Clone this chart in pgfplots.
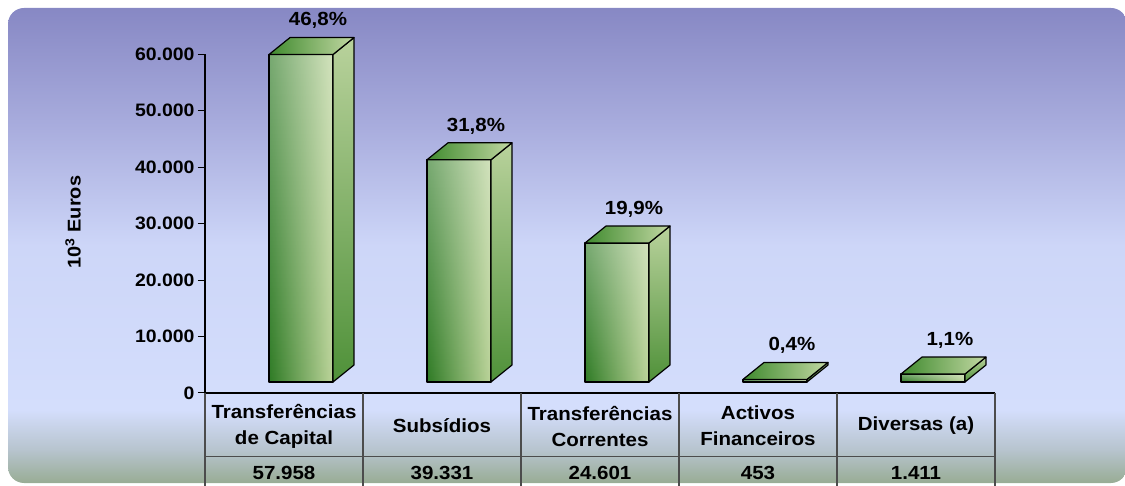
\documentclass[border=0pt]{standalone}
\usepackage{fontspec}
\setmainfont{Liberation Sans}[FakeStretch=1.08]
\usepackage{pgfplots}
\usepackage{pgfplotstable}
\pgfplotsset{compat=1.18}
\usetikzlibrary{fadings}

\definecolor{bgtop}{HTML}{8788C4}
\definecolor{bgup}{HTML}{A8ACDD}
\definecolor{bgmid}{HTML}{CDD6F8}
\definecolor{bglight}{HTML}{D4DEFC}
\definecolor{bgmix}{HTML}{B7C4CE}
\definecolor{bgbot}{HTML}{98AC94}
\definecolor{frontL}{HTML}{2F7B25}
\definecolor{frontR}{HTML}{BCD49A}
\definecolor{sideT}{HTML}{B9D29C}
\definecolor{sideB}{HTML}{4F9139}
\definecolor{topL}{HTML}{3F8A2E}
\definecolor{topR}{HTML}{C2D8A3}

\pgfdeclareverticalshading{bgshade}{100bp}{color(0bp)=(bgbot); color(25bp)=(bgbot);
  color(28.5bp)=(bgmix); color(32.7bp)=(bglight); color(50bp)=(bgmid);
  color(62.7bp)=(bgup); color(75bp)=(bgtop); color(100bp)=(bgtop)}

\newcommand\tk{\fontsize{18pt}{20pt}\selectfont\bfseries}
\newcommand\hd{\fontsize{19pt}{26pt}\selectfont\bfseries}

% x = column, v = 10^3 euros, p = share
\pgfplotstableread{
x v p
0 57958 46,8
1 39331 31,8
2 24601 19,9
3 453 0,4
4 1411 1,1
}\data

% one 3D bar: front (shade, light wash to the top, outline), side, top
\newcommand\cuboid[2]{%
  \edef\front{(\fpeval{#1+0.405},1950) (\fpeval{#1+0.81},1950) (\fpeval{#1+0.81},\fpeval{1950+#2}) (\fpeval{#1+0.405},\fpeval{1950+#2})}%
  \edef\tmp{%
    \noexpand\addplot[draw=none, left color=frontL, right color=frontR] coordinates {\front} -- cycle;
    \noexpand\addplot[draw=none, fill=white, fill opacity=0.35, path fading=south] coordinates {\front} -- cycle;
    \noexpand\addplot[draw=black, fill=none, line width=1.2pt, line join=round] coordinates {\front} -- cycle;
    \noexpand\addplot[draw=black, line width=1.2pt, line join=round, top color=sideT, bottom color=sideB]
      coordinates {(\fpeval{#1+0.81},1950) (\fpeval{#1+0.943},4950) (\fpeval{#1+0.943},\fpeval{4950+#2}) (\fpeval{#1+0.81},\fpeval{1950+#2})} -- cycle;
    \noexpand\addplot[draw=black, line width=1.2pt, line join=round, left color=topL, right color=topR]
      coordinates {(\fpeval{#1+0.405},\fpeval{1950+#2}) (\fpeval{#1+0.81},\fpeval{1950+#2}) (\fpeval{#1+0.943},\fpeval{4950+#2}) (\fpeval{#1+0.538},\fpeval{4950+#2})} -- cycle;
  }\tmp}

\begin{document}
\begin{tikzpicture}[x=1pt,y=1pt]
\useasboundingbox (0,0) rectangle (1125,485);
\clip (0,0) rectangle (1125,485);
\shade[shading=bgshade, rounded corners=16pt] (8,2) rectangle (1127,477);
\begin{axis}[
    at={(205pt,92pt)}, anchor=south west,
    scale only axis, width=790pt, height=339pt,
    xmin=0, xmax=5, ymin=0, ymax=60000,
    clip=false,
    axis x line*=bottom, axis y line*=left,
    x axis line style={line width=2.4pt},
    y axis line style={line width=1.2pt},
    ytick={0,10000,20000,30000,40000,50000,60000},
    scaled y ticks=false,
    /pgf/number format/1000 sep={.},
    /pgf/number format/assume math mode=true,
    yticklabel style={font=\tk},
    tick align=outside, major tick length=7pt,
    ytick style={line width=1pt, black},
    xtick={0.5,1.5,2.5,3.5,4.5},
    xtick style={draw=none},
    xticklabels={{Transferências\\de Capital},{Subsídios},{Transferências\\Correntes},{Activos\\Financeiros},{Diversas (a)}},
    xticklabel style={align=center, anchor=center, yshift=-26pt, font=\hd},
    ylabel={10\textsuperscript{3} Euros},
    ylabel style={at={(axis description cs:-0.167,0.504)}, anchor=center, font=\fontsize{18.5pt}{20pt}\selectfont\bfseries},
]
% table grid
\pgfplotsinvokeforeach{0,1,2,3,4,5}{
  \draw[line width=1.6pt, black!70] (axis cs:#1,0) -- (axis cs:#1,-20000);
}
\draw[line width=1.3pt, black!70] (axis cs:0,-11300) -- (axis cs:5,-11300);

\pgfplotsinvokeforeach{0,1,2,3,4}{
  \pgfplotstablegetelem{#1}{v}\of\data
  \cuboid{#1}{\pgfplotsretval}
}

% percentage labels
\addplot[only marks, mark=*, mark size=0pt, mark options={draw=none, fill=none},
  nodes near coords={\pgfplotspointmeta\%}, point meta=explicit symbolic,
  nodes near coords style={anchor=center, font=\hd}]
  table[x expr=\thisrow{x}+0.715, y expr=\thisrow{v}+7950, meta=p] {\data};

% value row
\addplot[only marks, mark=*, mark size=0pt, mark options={draw=none, fill=none},
  nodes near coords, point meta=\thisrow{v},
  nodes near coords style={anchor=center, font=\hd}]
  table[x expr=\thisrow{x}+0.5, y expr=-14200] {\data};
\end{axis}
\end{tikzpicture}
\end{document}
